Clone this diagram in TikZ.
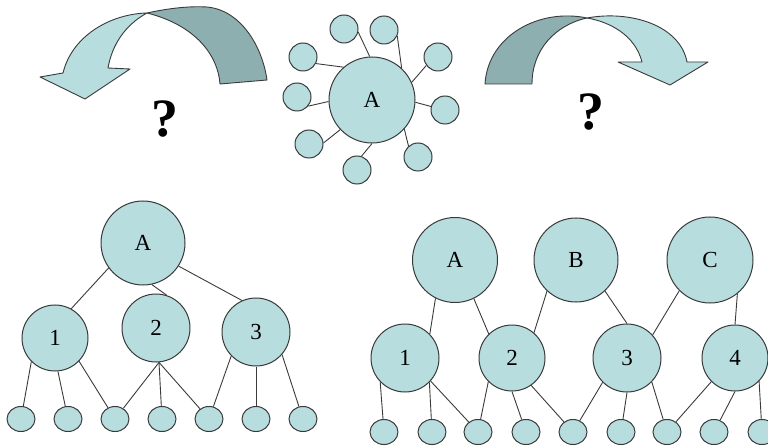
\documentclass[tikz,border=0pt]{standalone}
\usepackage{fontspec}
\setmainfont{Liberation Serif}
\usetikzlibrary{shapes.geometric}
\definecolor{nodefill}{HTML}{B7DDDF}
\definecolor{backfill}{HTML}{8DAFB0}
\definecolor{edgecol}{HTML}{3A3A3A}
\tikzset{
  bignode/.style={circle, draw=edgecol, fill=nodefill, line width=1pt, inner sep=0pt,
    font=\fontsize{23}{23}\selectfont},
  satnode/.style={circle, draw=edgecol, fill=nodefill, line width=1pt, inner sep=0pt,
    minimum size=28pt},
  leafnode/.style={ellipse, draw=edgecol, fill=nodefill, line width=1pt, inner sep=0pt,
    minimum width=28pt, minimum height=25pt},
  link/.style={draw=edgecol, line width=0.9pt},
  bandshape/.style={draw=edgecol, line width=0.9pt, line join=round},
  qmark/.style={font=\fontsize{54}{54}\selectfont\bfseries, inner sep=0pt}
}
\begin{document}
\begin{tikzpicture}[x=1pt, y=-1pt]
\useasboundingbox (0,0) rectangle (768,446);

% ---- curved arrow turning left ----
\path[bandshape, fill=backfill] (147,13) .. controls (170,8) and (190,6) .. (207,7)
  .. controls (240,10) and (262,45) .. (267,80) -- (220,84)
  .. controls (218,55) and (195,25) .. (147,13) -- cycle;
\path[bandshape, fill=nodefill] (147,13) .. controls (110,14) and (72,36) .. (63,73)
  -- (40,77) -- (85,99) -- (130,69) -- (108,68)
  .. controls (112,45) and (125,25) .. (147,13) -- cycle;
\node[qmark] (q1) at (165,119) {?};

% ---- curved arrow turning right ----
\path[bandshape, fill=backfill] (587,18) .. controls (540,8) and (488,35) .. (485,84)
  -- (532,84) .. controls (532,50) and (555,25) .. (587,18) -- cycle;
\path[bandshape, fill=nodefill] (587,18) .. controls (630,10) and (680,25) .. (687,62)
  -- (708,62) -- (670,85) -- (618,62) -- (642,62)
  .. controls (635,35) and (610,22) .. (587,18) -- cycle;
\node[qmark] (q2) at (591,112) {?};

% ---- star: one hub with nine satellites ----
\node[bignode, minimum size=86pt] (hub) at (372,100) {A};
\node[satnode] (s1) at (344,29) {};
\node[satnode] (s2) at (384,30) {};
\node[satnode] (s3) at (303,57) {};
\node[satnode] (s4) at (438,57) {};
\node[satnode] (s5) at (297,97) {};
\node[satnode] (s6) at (445,110) {};
\node[satnode] (s7) at (309,144) {};
\node[satnode] (s8) at (418,157) {};
\node[satnode] (s9) at (357,170) {};
\draw[link] (s1.-12) -- (hub.93);
\draw[link] (s2.-24) -- (hub.47);
\draw[link] (s3.-27) -- (hub.131);
\draw[link] (s4.216) -- (hub.24);
\draw[link] (s5.-39) -- (hub.182);
\draw[link] (s6.166) -- (hub.-3);
\draw[link] (s7.4) -- (hub.223);
\draw[link] (s8.131) -- (hub.-42);
\draw[link] (s9.72) -- (hub.-90);

% ---- tree with a single root ----
\node[bignode, minimum size=84pt] (LA) at (143,243) {A};
\node[bignode, minimum size=66pt] (L1) at (55,338) {1};
\node[bignode, minimum size=68pt] (L2) at (156,328) {2};
\node[bignode, minimum size=68pt] (L3) at (256,332) {3};
\foreach \i/\x in {1/21,2/68,3/115,4/162,5/209,6/256,7/303}
  \node[leafnode] (l\i) at (\x,419) {};
\draw[link] (LA.216) -- (L1.61);
\draw[link] (LA.-78) -- (L2.72);
\draw[link] (LA.-33) -- (L3.114);
\draw[link] (L1.-135) -- (l1);
\draw[link] (L1.-85) -- (l2);
\draw[link] (L1.-44) -- (l3);
\draw[link] (L2.-85) -- (l3);
\draw[link] (L2.-85) -- (l4);
\draw[link] (L2.-85) -- (l5);
\draw[link] (L3.-136) -- (l5);
\draw[link] (L3.-90) -- (l6);
\draw[link] (L3.-41) -- (l7);

% ---- layered net with three roots ----
\node[bignode, minimum size=85pt] (RA) at (455,260) {A};
\node[bignode, minimum size=84pt] (RB) at (576,260) {B};
\node[bignode, minimum size=86pt] (RC) at (710,260) {C};
\node[bignode, minimum size=68pt] (R1) at (405,358) {1};
\node[bignode, minimum size=66pt] (R2) at (512,358) {2};
\node[bignode, minimum size=68pt] (R3) at (627,358) {3};
\node[bignode, minimum size=66pt] (R4) at (735,358) {4};
\foreach \i/\x in {1/384,2/432,3/478,4/526,5/573,6/621,7/667,8/714,9/762}
  \node[leafnode] (r\i) at (\x,432) {};
\draw[link] (RA.243) -- (R1.44);
\draw[link] (RA.-64) -- (R2.134);
\draw[link] (RB.-133) -- (R2.49);
\draw[link] (RB.-47) -- (R3.90);
\draw[link] (RC.-135) -- (R3.42);
\draw[link] (RC.-51) -- (R4.90);
\draw[link] (R1.-136) -- (r1);
\draw[link] (R1.-45) -- (r2);
\draw[link] (R1.-42) -- (r3);
\draw[link] (R2.-135) -- (r3);
\draw[link] (R2.-90) -- (r4);
\draw[link] (R2.-55) -- (r5);
\draw[link] (R3.-135) -- (r5);
\draw[link] (R3.-90) -- (r6);
\draw[link] (R3.-44) -- (r7);
\draw[link] (R4.-135) -- (r7);
\draw[link] (R4.-90) -- (r8);
\draw[link] (R4.-44) -- (r9);
\end{tikzpicture}
\end{document}
